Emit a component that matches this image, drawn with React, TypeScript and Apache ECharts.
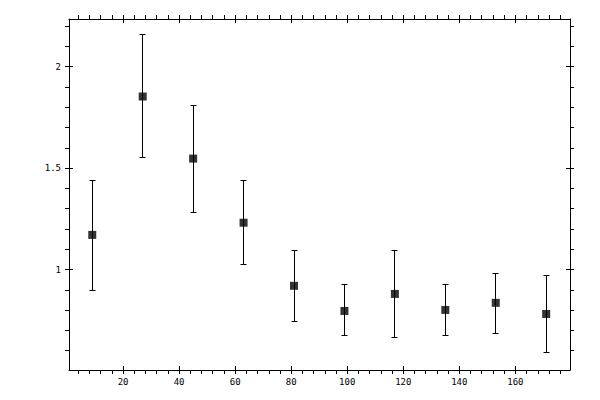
import { useEffect, useRef } from 'react';
import * as echarts from 'echarts';

// bin centres and measured values
const xValues = [9, 27, 45, 63, 81, 99, 117, 135, 153, 171];
const yValues = [1.171, 1.853, 1.547, 1.231, 0.92, 0.796, 0.88, 0.801, 0.836, 0.781];
const yUpper = [1.441, 2.159, 1.811, 1.438, 1.095, 0.924, 1.095, 0.924, 0.979, 0.969];
const yLower = [0.895, 1.553, 1.28, 1.023, 0.742, 0.673, 0.663, 0.673, 0.687, 0.589];

// axis ticks
const xTickLabels = [20, 40, 60, 80, 100, 120, 140, 160];
const yTickLabels = [1, 1.5, 2];
const xMinorStep = 4;
const yMinorStep = 0.1;

const X_MIN = 0.7;
const X_MAX = 179.5;
const Y_MIN = 0.505;
const Y_MAX = 2.235;

function stepTicks(min: number, max: number, step: number) {
  const out: number[] = [];
  for (let v = Math.ceil(min / step) * step; v < max; v += step) {
    out.push(Math.round(v * 1000) / 1000);
  }
  return out;
}

const xAllTicks = stepTicks(X_MIN, X_MAX, xMinorStep);
const yAllTicks = stepTicks(Y_MIN, Y_MAX, yMinorStep);

const FONT = 'DejaVu Sans Mono';

// snap to half pixel so 1px strokes stay crisp
const crisp = (v: number) => Math.round(v - 0.5) + 0.5;

export default function App() {
  const chartRef = useRef<HTMLDivElement>(null);

  useEffect(() => {
    if (!chartRef.current) return;
    const chart = echarts.init(chartRef.current, null, { renderer: 'svg' });

    const gridBox = { left: 69, right: 30, top: 19, bottom: 30, containLabel: false };

    const baseX = (gridIndex: number, position: 'top' | 'bottom') => ({
      type: 'value' as const,
      gridIndex,
      position,
      min: X_MIN,
      max: X_MAX,
      splitLine: { show: false },
    });
    const baseY = (gridIndex: number, position: 'left' | 'right') => ({
      type: 'value' as const,
      gridIndex,
      position,
      min: Y_MIN,
      max: Y_MAX,
      splitLine: { show: false },
    });

    const line = { show: true, onZero: false, lineStyle: { color: '#000', width: 1 } };
    const outTicks = (vals: number[]) => ({
      show: true,
      inside: false,
      length: 4,
      customValues: vals,
      lineStyle: { color: '#000', width: 1 },
    });
    const inTicks = (vals: number[]) => ({
      show: true,
      inside: true,
      length: 4,
      customValues: vals,
      lineStyle: { color: '#000', width: 1 },
    });
    const noLabel = { show: false };

    const option: echarts.EChartsOption = {
      animation: false,
      backgroundColor: '#fff',
      grid: [gridBox, gridBox],
      xAxis: [
        {
          ...baseX(0, 'bottom'),
          axisLine: line,
          axisTick: outTicks(xAllTicks),
          axisLabel: {
            show: true,
            customValues: xTickLabels,
            margin: 7,
            color: '#000',
            fontFamily: FONT,
            fontSize: 9,
          },
        },
        { ...baseX(0, 'top'), axisLine: line, axisTick: outTicks(xAllTicks), axisLabel: noLabel },
        { ...baseX(1, 'bottom'), axisLine: { show: false }, axisTick: inTicks(xTickLabels), axisLabel: noLabel },
        { ...baseX(1, 'top'), axisLine: { show: false }, axisTick: inTicks(xTickLabels), axisLabel: noLabel },
      ],
      yAxis: [
        {
          ...baseY(0, 'left'),
          axisLine: line,
          axisTick: outTicks(yAllTicks),
          axisLabel: {
            show: true,
            customValues: yTickLabels,
            margin: 8,
            color: '#000',
            fontFamily: FONT,
            fontSize: 9,
          },
        },
        { ...baseY(0, 'right'), axisLine: line, axisTick: outTicks(yAllTicks), axisLabel: noLabel },
        { ...baseY(1, 'left'), axisLine: { show: false }, axisTick: inTicks(yTickLabels), axisLabel: noLabel },
        { ...baseY(1, 'right'), axisLine: { show: false }, axisTick: inTicks(yTickLabels), axisLabel: noLabel },
      ],
      series: [
        {
          type: 'custom',
          xAxisIndex: 0,
          yAxisIndex: 0,
          data: xValues.map((x, i) => [x, yLower[i], yUpper[i]]),
          renderItem: (_params: any, api: any) => {
            const x = api.value(0);
            const top = api.coord([x, api.value(2)]);
            const bot = api.coord([x, api.value(1)]);
            const cx = crisp(top[0]);
            const ty = crisp(top[1]);
            const by = crisp(bot[1]);
            const hw = 3;
            const style = { stroke: '#000', lineWidth: 1 };
            return {
              type: 'group',
              children: [
                { type: 'line', shape: { x1: cx, y1: ty, x2: cx, y2: by }, style },
                { type: 'line', shape: { x1: cx - hw, y1: ty, x2: cx + hw, y2: ty }, style },
                { type: 'line', shape: { x1: cx - hw, y1: by, x2: cx + hw, y2: by }, style },
              ],
            };
          },
          silent: true,
          z: 2,
        },
        {
          type: 'scatter',
          xAxisIndex: 0,
          yAxisIndex: 0,
          data: xValues.map((x, i) => [x, yValues[i]]),
          symbol: 'rect',
          symbolSize: 8,
          itemStyle: { color: '#000' },
          silent: true,
          z: 3,
        },
      ],
    };

    chart.setOption(option);

    return () => {
      chart.dispose();
    };
  }, []);

  return (
    <div
      ref={chartRef}
      style={{ position: 'absolute', left: 0, top: 0, width: 600, height: 400 }}
    />
  );
}
